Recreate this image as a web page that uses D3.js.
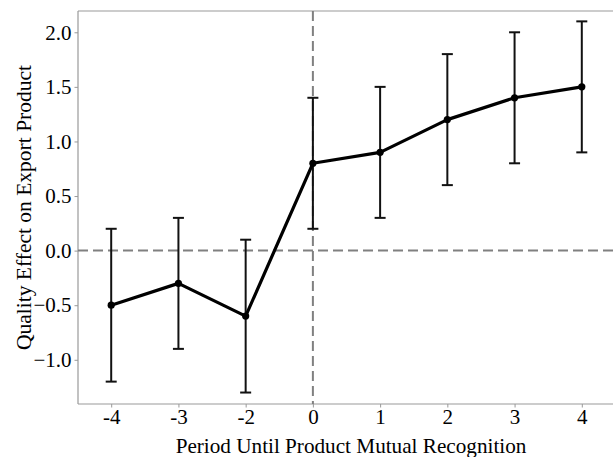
<!DOCTYPE html>
<html>
<head>
<meta charset="utf-8">
<script src="https://cdn.jsdelivr.net/npm/d3@7"></script>
<style>
  html, body { margin: 0; padding: 0; background: #fff; }
  svg { display: block; }
  text { font-family: 'Liberation Serif', serif; }
</style>
</head>
<body>
<svg id="chart" width="613" height="457"></svg>
<script>
const periods = ["-4", "-3", "-2", "0", "1", "2", "3", "4"];
const estimates = [-0.5, -0.3, -0.6, 0.8, 0.9, 1.2, 1.4, 1.5];
const lowerCI = [-1.2, -0.9, -1.3, 0.2, 0.3, 0.6, 0.8, 0.9];
const upperCI = [0.2, 0.3, 0.1, 1.4, 1.5, 1.8, 2.0, 2.1];
const yTicks = [-1.0, -0.5, 0.0, 0.5, 1.0, 1.5, 2.0];
const xLabel = "Period Until Product Mutual Recognition";
const yLabel = "Quality Effect on Export Product";

const FONT = "Liberation Serif";
const svg = d3.select("#chart");
const pLeft = 78, pRight = 640, pTop = 11, pBottom = 404;

const x = d3.scalePoint().domain(periods).range([111.2, 581.8]);
const y = d3.scaleLinear().domain([-1.405, 2.195]).range([pBottom, pTop]);

const data = periods.map((p, i) => ({ p, v: estimates[i], lo: lowerCI[i], hi: upperCI[i] }));

// spines
svg.append("line").attr("x1", pLeft).attr("x2", pRight).attr("y1", pTop).attr("y2", pTop)
  .attr("stroke", "#999").attr("stroke-width", 1.2);
svg.append("line").attr("x1", pLeft).attr("x2", pLeft).attr("y1", pTop).attr("y2", pBottom)
  .attr("stroke", "#999").attr("stroke-width", 1.2);
svg.append("line").attr("x1", pLeft).attr("x2", pRight).attr("y1", pBottom).attr("y2", pBottom)
  .attr("stroke", "#999").attr("stroke-width", 1.2);

// axes
const xAxis = svg.append("g").attr("transform", `translate(0,${pBottom})`)
  .attr("font-family", FONT)
  .call(d3.axisBottom(x).tickSize(3.5).tickPadding(2));
xAxis.attr("font-family", FONT).attr("font-size", 21);
xAxis.select(".domain").remove();
xAxis.selectAll(".tick line").attr("stroke", "#999");
xAxis.selectAll(".tick text").attr("fill", "#000");

const yAxis = svg.append("g").attr("transform", `translate(${pLeft},0)`)
  .call(d3.axisLeft(y).tickValues(yTicks).tickFormat(d3.format(".1f")).tickSize(3.5).tickPadding(3));
yAxis.attr("font-family", FONT).attr("font-size", 21);
yAxis.select(".domain").remove();
yAxis.selectAll(".tick line").attr("stroke", "#999");
yAxis.selectAll(".tick text").attr("fill", "#000");

// reference lines
svg.append("line").attr("x1", pLeft).attr("x2", pRight).attr("y1", y(0)).attr("y2", y(0))
  .attr("stroke", "#808080").attr("stroke-width", 2).attr("stroke-dasharray", "10,5");
svg.append("line").attr("x1", x("0")).attr("x2", x("0")).attr("y1", pTop).attr("y2", pBottom)
  .attr("stroke", "#808080").attr("stroke-width", 2).attr("stroke-dasharray", "10,5");

// error bars
const eb = svg.append("g").attr("stroke", "#111").attr("stroke-width", 2);
eb.selectAll("line.v").data(data).join("line").attr("class", "v")
  .attr("x1", d => x(d.p)).attr("x2", d => x(d.p))
  .attr("y1", d => y(d.lo)).attr("y2", d => y(d.hi));
eb.selectAll("line.t").data(data).join("line").attr("class", "t")
  .attr("x1", d => x(d.p) - 5.5).attr("x2", d => x(d.p) + 5.5)
  .attr("y1", d => y(d.hi)).attr("y2", d => y(d.hi));
eb.selectAll("line.b").data(data).join("line").attr("class", "b")
  .attr("x1", d => x(d.p) - 5.5).attr("x2", d => x(d.p) + 5.5)
  .attr("y1", d => y(d.lo)).attr("y2", d => y(d.lo));

// line
svg.append("path").datum(data)
  .attr("d", d3.line().x(d => x(d.p)).y(d => y(d.v)))
  .attr("fill", "none").attr("stroke", "#000").attr("stroke-width", 3.2)
  .attr("stroke-linejoin", "round");
svg.selectAll("circle.pt").data(data).join("circle").attr("class", "pt")
  .attr("cx", d => x(d.p)).attr("cy", d => y(d.v)).attr("r", 3.6).attr("fill", "#000");

// labels
svg.append("text").attr("x", 351).attr("y", 453).attr("text-anchor", "middle")
  .attr("font-family", FONT).attr("font-size", 21.2).attr("fill", "#000").text(xLabel);
svg.append("text").attr("transform", `translate(31,${(pTop + pBottom) / 2}) rotate(-90)`)
  .attr("text-anchor", "middle").attr("font-family", FONT).attr("font-size", 21.5)
  .attr("fill", "#000").text(yLabel);
</script>
</body>
</html>
